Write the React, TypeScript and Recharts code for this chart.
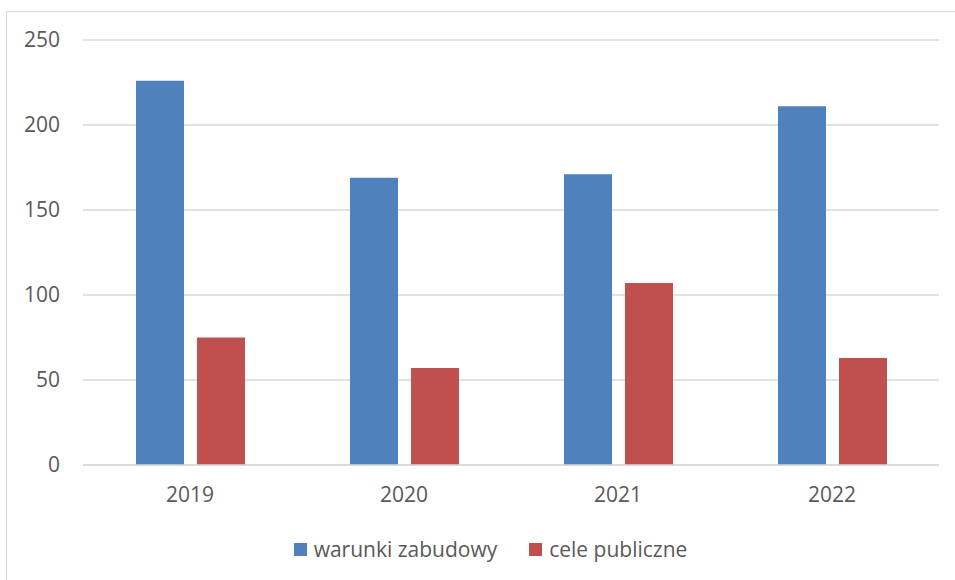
import { BarChart, Bar, XAxis, YAxis, CartesianGrid, Legend } from 'recharts';

const years = ['2019', '2020', '2021', '2022'];
const warunkiZabudowy = [226, 169, 171, 211];
const celePubliczne = [75, 57, 107, 63];
const yTicks = [0, 50, 100, 150, 200, 250];
const seriesOrder = ['warunki zabudowy', 'cele publiczne'];

const data = years.map((year, i) => ({
  year,
  warunki: warunkiZabudowy[i],
  cele: celePubliczne[i],
}));

const FONT = '"Open Sans", "Noto Sans", sans-serif';
const TEXT = '#595959';

function LegendContent({ payload }: any) {
  const items = [...(payload || [])].sort(
    (a: any, b: any) => seriesOrder.indexOf(a.value) - seriesOrder.indexOf(b.value)
  );
  return (
    <div style={{ position: 'relative', left: 21, display: 'flex', justifyContent: 'center', alignItems: 'center', height: 40, paddingTop: 8, boxSizing: 'border-box', fontFamily: FONT, fontSize: 21, color: TEXT }}>
      {items.map((entry: any, i: number) => (
        <div key={entry.value} style={{ display: 'flex', alignItems: 'center', marginLeft: i > 0 ? 32 : 0 }}>
          <span style={{ display: 'inline-block', width: 13, height: 13, background: entry.color, marginRight: 7 }} />
          <span>{entry.value}</span>
        </div>
      ))}
    </div>
  );
}

export default function App() {
  return (
    <div style={{ position: 'absolute', left: 0, top: 0, width: 955, height: 580, overflow: 'hidden', background: '#fff' }}>
      <div style={{ position: 'absolute', left: 6, top: 11, width: 980, height: 600, border: '1px solid #d9d9d9' }} />
      <div style={{ position: 'absolute', left: 0, top: 0 }}>
        <BarChart width={955} height={580} data={data} margin={{ top: 40, right: 16, bottom: 15, left: 0 }} barSize={48} barGap={13}>
          <CartesianGrid vertical={false} stroke="#d9d9d9" strokeWidth={1.3} />
          <XAxis
            dataKey="year"
            height={60}
            tickLine={false}
            axisLine={{ stroke: '#d9d9d9', strokeWidth: 1.5 }}
            tickSize={0}
            tickMargin={22}
            tick={{ fill: TEXT, fontSize: 21, fontFamily: FONT }}
          />
          <YAxis
            width={83}
            domain={[0, 250]}
            ticks={yTicks}
            axisLine={false}
            tickLine={false}
            tickSize={0}
            tickMargin={23}
            tick={{ fill: TEXT, fontSize: 21, fontFamily: FONT }}
          />
          <Legend verticalAlign="bottom" height={40} content={<LegendContent />} />
          <Bar dataKey="warunki" name="warunki zabudowy" fill="#4F81BD" isAnimationActive={false} />
          <Bar dataKey="cele" name="cele publiczne" fill="#C0504D" isAnimationActive={false} />
        </BarChart>
      </div>
    </div>
  );
}
